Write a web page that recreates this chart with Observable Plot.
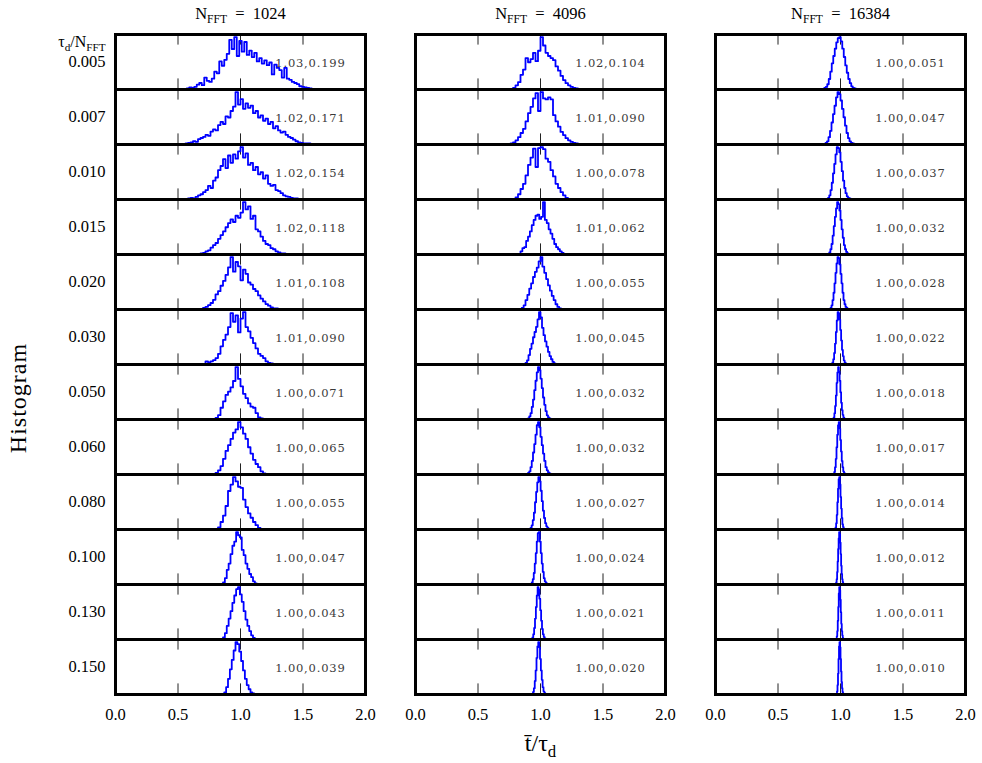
<!DOCTYPE html>
<html><head><meta charset="utf-8">
<script src="https://cdn.jsdelivr.net/npm/d3@7"></script>
<script src="https://cdn.jsdelivr.net/npm/@observablehq/plot@0.6"></script>
<style>body{margin:0;background:#fff}</style>
</head><body><div id="chart"></div>
<script>
// ---- data ----
const nfft = [1024, 4096, 16384];
const taus = ["0.005","0.007","0.010","0.015","0.020","0.030","0.050","0.060","0.080","0.100","0.130","0.150"];
const xTicks = [0, 0.5, 1, 1.5, 2];
const innerTicks = [0.5, 1, 1.5];

const means1024 = ["1.03","1.02","1.02","1.02","1.01","1.01","1.00","1.00","1.00","1.00","1.00","1.00"];
const stds1024  = ["0.199","0.171","0.154","0.118","0.108","0.090","0.071","0.065","0.055","0.047","0.043","0.039"];
const means4096 = ["1.02","1.01","1.00","1.01","1.00","1.00","1.00","1.00","1.00","1.00","1.00","1.00"];
const stds4096  = ["0.104","0.090","0.078","0.062","0.055","0.045","0.032","0.032","0.027","0.024","0.021","0.020"];
const means16384 = ["1.00","1.00","1.00","1.00","1.00","1.00","1.00","1.00","1.00","1.00","1.00","1.00"];
const stds16384  = ["0.051","0.047","0.037","0.032","0.028","0.022","0.018","0.017","0.014","0.012","0.011","0.010"];

// histogram bins: first bin edge, bin width, counts (estimated)
const hist1024 = [
  {start:0.57, width:0.02, counts:[2,4,3,5,9,12,8,22,16,14,20,33,30,52,44,55,66,92,75,97,62,90,70,88,64,72,60,68,52,58,48,54,45,50,28,46,40,36,22,40,20,18,14,12,10,6,5,4,3,2]},
  {start:0.56, width:0.02, counts:[2,3,4,6,5,10,12,14,18,16,24,28,26,36,42,38,52,50,62,70,97,74,84,66,76,68,72,58,62,50,54,44,48,38,42,30,34,26,22,24,18,14,12,9,6,4,3,2,2,2]},
  {start:0.58, width:0.02, counts:[2,3,2,5,8,10,14,18,26,22,36,42,56,64,77,60,84,70,86,78,92,100,80,88,66,70,56,62,48,52,40,46,30,26,28,18,16,12,8,6,5,3,2,2]},
  {start:0.68, width:0.02, counts:[2,3,6,8,13,18,22,30,37,44,52,60,67,62,74,70,80,100,86,92,68,74,48,44,34,26,20,18,12,10,6,4,2,2]},
  {start:0.70, width:0.02, counts:[3,5,8,12,18,28,34,44,53,64,78,97,70,88,80,54,74,66,50,46,38,34,26,20,15,10,7,4,2,2,1]},
  {start:0.72, width:0.02, counts:[6,4,6,8,12,20,34,46,56,70,96,80,92,60,86,98,70,62,50,40,30,20,16,12,6,3,2]},
  {start:0.80, width:0.02, counts:[3,8,22,34,46,52,60,72,98,76,62,48,40,30,24,22,12,4,2]},
  {start:0.80, width:0.02, counts:[3,8,16,30,45,56,68,80,86,100,90,78,68,52,40,28,20,14,6,2]},
  {start:0.82, width:0.02, counts:[4,14,26,44,72,84,98,90,80,78,56,42,30,22,14,8,3]},
  {start:0.86, width:0.015, counts:[4,12,28,40,58,74,82,100,94,90,66,56,40,30,20,14,6,2]},
  {start:0.86, width:0.015, counts:[4,12,26,40,54,70,84,96,100,86,72,54,38,26,16,8,3]},
  {start:0.87, width:0.015, counts:[4,14,30,48,66,84,100,96,82,64,46,30,18,10,4,2]}
];
const hist4096 = [
  {start:0.78, width:0.02, counts:[3,8,14,28,38,60,52,58,70,54,74,100,84,70,64,60,56,44,36,26,18,12,8,5,3,2]},
  {start:0.76, width:0.02, counts:[2,4,8,14,22,30,44,60,72,88,98,64,100,88,86,90,86,56,44,34,24,18,12,8,5,3,2]},
  {start:0.80, width:0.02, counts:[4,10,20,30,46,66,80,97,62,98,100,96,78,72,56,44,30,22,14,8,3]},
  {start:0.84, width:0.015, counts:[6,12,14,26,34,44,56,66,74,76,68,72,100,66,60,48,40,30,20,14,10,6,3]},
  {start:0.85, width:0.015, counts:[3,8,18,28,40,50,62,72,80,92,100,82,70,58,46,36,26,18,10,5,2]},
  {start:0.88, width:0.012, counts:[3,8,18,30,40,52,62,72,86,100,90,70,56,44,34,24,16,10,5,2]},
  {start:0.90, width:0.01, counts:[2,6,12,24,38,56,74,90,100,94,78,60,42,28,16,8,4,2,1,1]},
  {start:0.90, width:0.01, counts:[3,6,14,26,42,58,76,94,100,90,72,56,40,26,14,8,4,2,1,1]},
  {start:0.92, width:0.009, counts:[3,8,18,32,52,72,90,100,92,74,54,36,22,12,6,3,1,1]},
  {start:0.93, width:0.008, counts:[4,10,22,40,60,82,98,100,82,60,40,24,12,6,3,1,1]},
  {start:0.935, width:0.007, counts:[4,10,22,40,62,84,100,96,78,56,36,20,10,5,2,1,1]},
  {start:0.94, width:0.007, counts:[5,12,26,46,70,92,100,90,68,46,28,14,6,3,1,1]}
];
const hist16384 = [
  {start:0.87, width:0.012, counts:[3,5,10,20,34,50,64,78,90,98,100,92,78,62,46,32,20,12,6,3,2,1]},
  {start:0.88, width:0.012, counts:[3,6,14,26,42,58,74,90,100,96,84,68,52,36,22,12,6,3,2,1]},
  {start:0.90, width:0.01, counts:[3,8,18,32,50,68,86,100,98,90,72,54,36,22,12,6,3,2,1,1]},
  {start:0.91, width:0.009, counts:[4,10,20,36,54,72,88,100,96,84,66,48,32,18,10,5,2,1,1,1]},
  {start:0.92, width:0.008, counts:[3,8,18,32,50,70,88,100,98,86,68,50,32,18,10,5,3,1,1,1]},
  {start:0.935, width:0.007, counts:[4,10,22,40,62,84,100,98,86,66,46,28,16,8,4,2,1,1,1]},
  {start:0.945, width:0.006, counts:[4,12,26,46,70,90,100,92,74,52,32,18,9,4,2,1,1,1,1]},
  {start:0.95, width:0.006, counts:[5,14,30,52,76,94,100,88,66,44,26,14,6,3,1,1,1,1]},
  {start:0.96, width:0.005, counts:[4,12,28,52,78,96,100,86,62,40,22,10,5,2,1,1,1]},
  {start:0.965, width:0.004, counts:[4,10,24,44,68,88,100,96,80,58,36,20,10,5,2,1,1,1]},
  {start:0.97, width:0.004, counts:[6,16,36,62,88,100,94,76,52,30,16,8,3,1,1,1]},
  {start:0.972, width:0.004, counts:[6,18,40,68,92,100,90,68,44,24,12,5,2,1,1]}
];

const headerLabel = "τ_{d}/N_{FFT}";
const xLabel = "t\u0304/τ_{d}";
const yLabel = "Histogram";

// ---- build tables ----
const columns = [
  {n: nfft[0], hist: hist1024, means: means1024, stds: stds1024},
  {n: nfft[1], hist: hist4096, means: means4096, stds: stds4096},
  {n: nfft[2], hist: hist16384, means: means16384, stds: stds16384}
];
const lineData = [], annData = [];
columns.forEach(c => c.hist.forEach((h, i) => {
  const key = c.n + "-" + taus[i];
  const m = d3.max(h.counts);
  const end = h.start + h.counts.length * h.width;
  const pts = [{x: h.start, y: 0}];
  h.counts.forEach((v, j) => pts.push({x: h.start + j * h.width, y: v / m * 100}));
  pts.push({x: end, y: h.counts[h.counts.length - 1] / m * 100});
  pts.push({x: end, y: 0});
  pts.forEach(p => lineData.push({...p, key, n: c.n, tau: taus[i]}));
  annData.push({n: c.n, tau: taus[i], label: `${c.means[i]},${c.stds[i]}`});
}));

const serif = "'Liberation Serif', 'DejaVu Serif', serif";
const chart = Plot.plot({
  width: 982, height: 763,
  marginLeft: 114.5, marginRight: 16, marginTop: 31, marginBottom: 66.5,
  style: {fontFamily: serif, fontSize: "16.5px", color: "#000", background: "#fff", overflow: "visible"},
  x: {domain: [0, 2]},
  y: {domain: [0, 105], axis: null},
  fx: {domain: nfft, paddingInner: 50 / 300.5, paddingOuter: 0},
  fy: {domain: taus, paddingInner: 0, paddingOuter: 0},
  marks: [
    Plot.ruleX(innerTicks, {insetBottom: 44.4, stroke: "#222", strokeWidth: 1}),
    Plot.ruleX(innerTicks, {insetTop: 44.4, stroke: "#222", strokeWidth: 1}),
    Plot.line(lineData, {x: "x", y: "y", z: "key", fx: "n", fy: "tau", curve: "step-after", stroke: "#0000ff", strokeWidth: 1.8}),
    Plot.text(annData, {fx: "n", fy: "tau", text: "label", frameAnchor: "right", textAnchor: "end", lineAnchor: "middle",
      dx: -20, dy: 1, fontFamily: "'DejaVu Serif', serif", fontSize: 11.5, fill: "#3a3a3a"}),
    Plot.frame({stroke: "#000", strokeWidth: 3}),
    Plot.axisFx({anchor: "top", tickSize: 0, tickPadding: 16, label: null, fontSize: 16.5,
      tickFormat: d => `N_{FFT}\u2002=\u2002${d}`}),
    Plot.axisFy({anchor: "left", tickSize: 0, tickPadding: 10, label: null, fontSize: 16.5}),
    Plot.axisX(xTicks, {tickSize: 0, tickPadding: 14, label: null, fontSize: 16.5, tickFormat: d3.format(".1f")}),
    Plot.text([headerLabel], {fx: () => nfft[0], fy: () => taus[0], text: d => d, frameAnchor: "top-left",
      textAnchor: "end", lineAnchor: "middle", dx: -10, dy: 7, fontSize: 16}),
    Plot.text([xLabel], {fx: () => nfft[1], fy: () => taus[taus.length - 1], text: d => d, frameAnchor: "bottom",
      textAnchor: "middle", lineAnchor: "middle", dy: 49, fontSize: 24}),
    Plot.text([yLabel], {fx: () => nfft[0], fy: () => taus[6], text: d => d, frameAnchor: "left",
      textAnchor: "middle", lineAnchor: "middle", dx: -97, dy: 6, rotate: -90, fontSize: 24})
  ]
});
document.getElementById("chart").appendChild(chart);

// letter spacing for the mean,std annotations and the y label
d3.select(chart).selectAll("text").each(function() {
  if (/^\d\.\d\d,\d\.\d{3}$/.test(this.textContent)) this.setAttribute("letter-spacing", "0.8");
  if (this.textContent === yLabel) this.setAttribute("letter-spacing", "1");
});

// subscripts: "_{...}"
d3.select(chart).selectAll("text").each(function() {
  const s = this.textContent;
  if (!s.includes("_{")) return;
  const el = d3.select(this);
  el.text(null);
  const parts = s.split(/(_\{[^}]*\})/);
  let sub = false;
  parts.forEach(p => {
    if (!p) return;
    if (p.startsWith("_{")) {
      el.append("tspan").attr("dy", "0.35em").attr("font-size", "70%").text(p.slice(2, -1));
      sub = true;
    } else {
      const t = el.append("tspan").text(p);
      if (sub) { t.attr("dy", "-0.245em"); sub = false; }
    }
  });
});
</script>
</body></html>
